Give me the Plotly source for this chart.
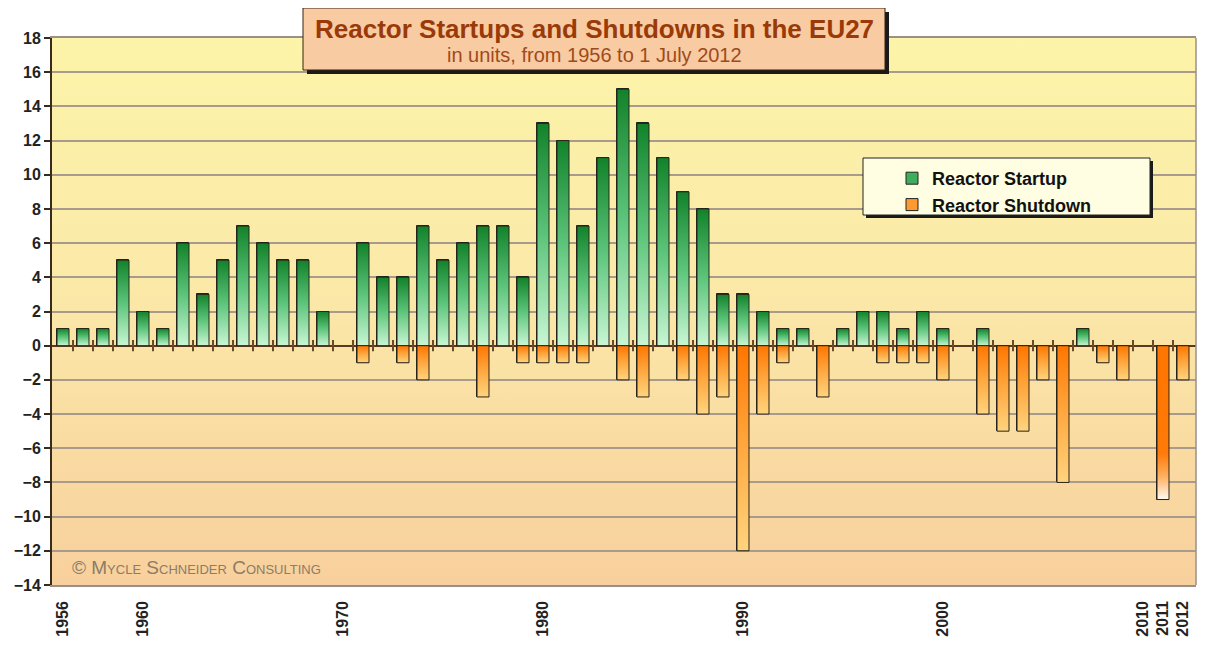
import base64
import plotly.graph_objects as go

# data
years = list(range(1956, 2013))
startups = [1, 1, 1, 5, 2, 1, 6, 3, 5, 7, 6, 5, 5, 2,
            0, 6, 4, 4, 7, 5, 6, 7, 7, 4,
            13, 12, 7, 11, 15, 13, 11, 9, 8, 3,
            3, 2, 1, 1, 0, 1, 2, 2, 1, 2,
            1, 0, 1, 0, 0, 0, 0, 1, 0, 0,
            0, 0, 0]
shutdowns = [0] * 14 + [
    0, -1, 0, -1, -2, 0, 0, -3, 0, -1,
    -1, -1, -1, 0, -2, -3, 0, -2, -4, -3,
    -12, -4, -1, 0, -3, 0, 0, -1, -1, -1,
    -2, 0, -4, -5, -5, -2, -8, 0, -1, -2,
    0, -9, -2]
tick_years = [1956, 1960, 1970, 1980, 1990, 2000, 2010, 2011, 2012]

FONT = "Arial, 'Liberation Sans', sans-serif"
BAR_W = 0.6
X_RANGE = [1955.45, 2012.65]
Y_RANGE = [-14, 18]

green_scale = [[0, "#c9f6d4"], [0.5, "#5cc47a"], [1, "#12822a"]]
orange_scale = [[0, "#ffd47e"], [0.55, "#ffa43a"], [1, "#ff7600"]]
fade_scale = [[0, "#fffaf2"], [0.15, "#ffb060"], [0.3, "#ff7a08"], [1, "#ff7600"]]

fig = go.Figure()

# base bars (also give the legend entries)
fig.add_trace(go.Bar(
    x=years, y=[v if v else None for v in startups], width=BAR_W,
    name="Reactor Startup", legendgroup="s",
    marker=dict(color="#3fae5c", line=dict(color="#222", width=1)),
))
fig.add_trace(go.Bar(
    x=years, y=[v if v else None for v in shutdowns], width=BAR_W,
    name="Reactor Shutdown", legendgroup="d",
    marker=dict(color="#ff9a2e", line=dict(color="#222", width=1)),
))

# gradient overlay on each bar
def gradient_bar(yr, v, scale):
    h = BAR_W / 2
    fig.add_trace(go.Scatter(
        x=[yr - h, yr + h, yr + h, yr - h, yr - h],
        y=[0, 0, v, v, 0],
        mode="lines", fill="toself",
        fillgradient=dict(type="vertical", colorscale=scale),
        line=dict(color="#2b2418", width=1),
        hoverinfo="skip", showlegend=False,
    ))

for yr, v in zip(years, startups):
    if v:
        gradient_bar(yr, v, green_scale)
for yr, v in zip(years, shutdowns):
    if v:
        gradient_bar(yr, v, fade_scale if yr == 2011 else orange_scale)

# small ticks crossing the zero line between years
fig.add_trace(go.Scatter(
    x=[y + 0.5 for y in years[:-1]], y=[0] * (len(years) - 1),
    mode="markers",
    marker=dict(symbol="line-ns", size=8, line=dict(color="#6b4a2a", width=2)),
    hoverinfo="skip", showlegend=False,
))

# plot area gradient background
svg = ('<svg xmlns="http://www.w3.org/2000/svg" width="100" height="100" '
       'viewBox="0 0 100 100" preserveAspectRatio="none"><defs>'
       '<linearGradient id="g" x1="0" y1="0" x2="0" y2="1">'
       '<stop offset="0" stop-color="#fcf4a8"/>'
       '<stop offset="0.45" stop-color="#fbe9a8"/>'
       '<stop offset="1" stop-color="#f8d09d"/>'
       '</linearGradient></defs>'
       '<rect width="100" height="100" fill="url(#g)"/></svg>')
bg_src = "data:image/svg+xml;base64," + base64.b64encode(svg.encode()).decode()

# page pixel -> paper helpers (plot area 52..1196 x 38..585 on the page)
def px(x):
    return (x - 52) / 1144

def py(y):
    return (585 - y) / 547

shapes = [
    # right border
    dict(type="line", xref="paper", yref="paper", x0=1, x1=1, y0=0, y1=1,
         line=dict(color="#9a9088", width=1.5)),
    # title box shadow + box
    dict(type="rect", xref="paper", yref="paper",
         x0=px(307), x1=px(889), y0=py(74), y1=py(12),
         fillcolor="#1a1a1a", line=dict(width=0)),
    dict(type="rect", xref="paper", yref="paper",
         x0=px(303), x1=px(885), y0=py(70), y1=py(8),
         fillcolor="#f8cba2", line=dict(color="#3a2010", width=1)),
    # legend box shadow + box
    dict(type="rect", xref="paper", yref="paper",
         x0=px(866), x1=px(1153), y0=py(218), y1=py(161),
         fillcolor="#1a1a1a", line=dict(width=0)),
    dict(type="rect", xref="paper", yref="paper",
         x0=px(863), x1=px(1150), y0=py(215), y1=py(158),
         fillcolor="#fffde2", line=dict(color="#222", width=1)),
]

annotations = [
    dict(text="<b>Reactor Startups and Shutdowns in the EU27</b>",
         xref="paper", yref="paper", x=px(594), y=py(29), showarrow=False,
         xanchor="center", yanchor="middle",
         font=dict(family=FONT, size=26, color="#9a3a08")),
    dict(text="in units, from 1956 to 1 July 2012",
         xref="paper", yref="paper", x=px(594), y=py(55), showarrow=False,
         xanchor="center", yanchor="middle",
         font=dict(family=FONT, size=20, color="#a04a1c")),
    dict(text="© Mycle Schneider Consulting",
         xref="paper", yref="paper", x=px(70), y=py(567), showarrow=False,
         xanchor="left", yanchor="middle",
         font=dict(family=FONT, size=19, color="#8c7c68", variant="small-caps")),
]

# the page body has an 8px margin, so the figure is 8px smaller each way
fig.update_layout(
    width=1200, height=648,
    margin=dict(l=44, r=12, t=30, b=71),
    paper_bgcolor="white", plot_bgcolor="rgba(0,0,0,0)",
    barmode="overlay", bargap=0,
    font=dict(family=FONT, color="#222"),
    images=[dict(source=bg_src, xref="paper", yref="paper", x=0, y=1,
                 sizex=1, sizey=1, sizing="stretch", layer="below",
                 xanchor="left", yanchor="top")],
    shapes=shapes, annotations=annotations,
    showlegend=True,
    legend=dict(x=px(892), y=py(160), xanchor="left", yanchor="top",
                bgcolor="rgba(0,0,0,0)", borderwidth=0,
                tracegroupgap=4, traceorder="normal",
                font=dict(family=FONT, size=18, color="#111", weight="bold")),
    xaxis=dict(range=X_RANGE, tickvals=tick_years, ticktext=[str(t) for t in tick_years],
               tickangle=-90, ticks="", showgrid=False, zeroline=False,
               showline=True, mirror=True, linecolor="#9a9088", linewidth=1.5,
               ticklabelstandoff=8, automargin=False,
               tickfont=dict(family=FONT, size=16, color="#222", weight="bold")),
    yaxis=dict(range=Y_RANGE, dtick=2, tick0=0, ticks="outside", ticklen=6,
               tickcolor="#3a2a1a", tickwidth=2, automargin=False,
               showline=True, linecolor="#3a2a1a", linewidth=2,
               showgrid=True, gridcolor="#a89a8c", gridwidth=1.5,
               zeroline=True, zerolinecolor="#5a3a1e", zerolinewidth=2,
               tickfont=dict(family=FONT, size=16, color="#222", weight="bold")),
)

fig.write_html("out.html")
